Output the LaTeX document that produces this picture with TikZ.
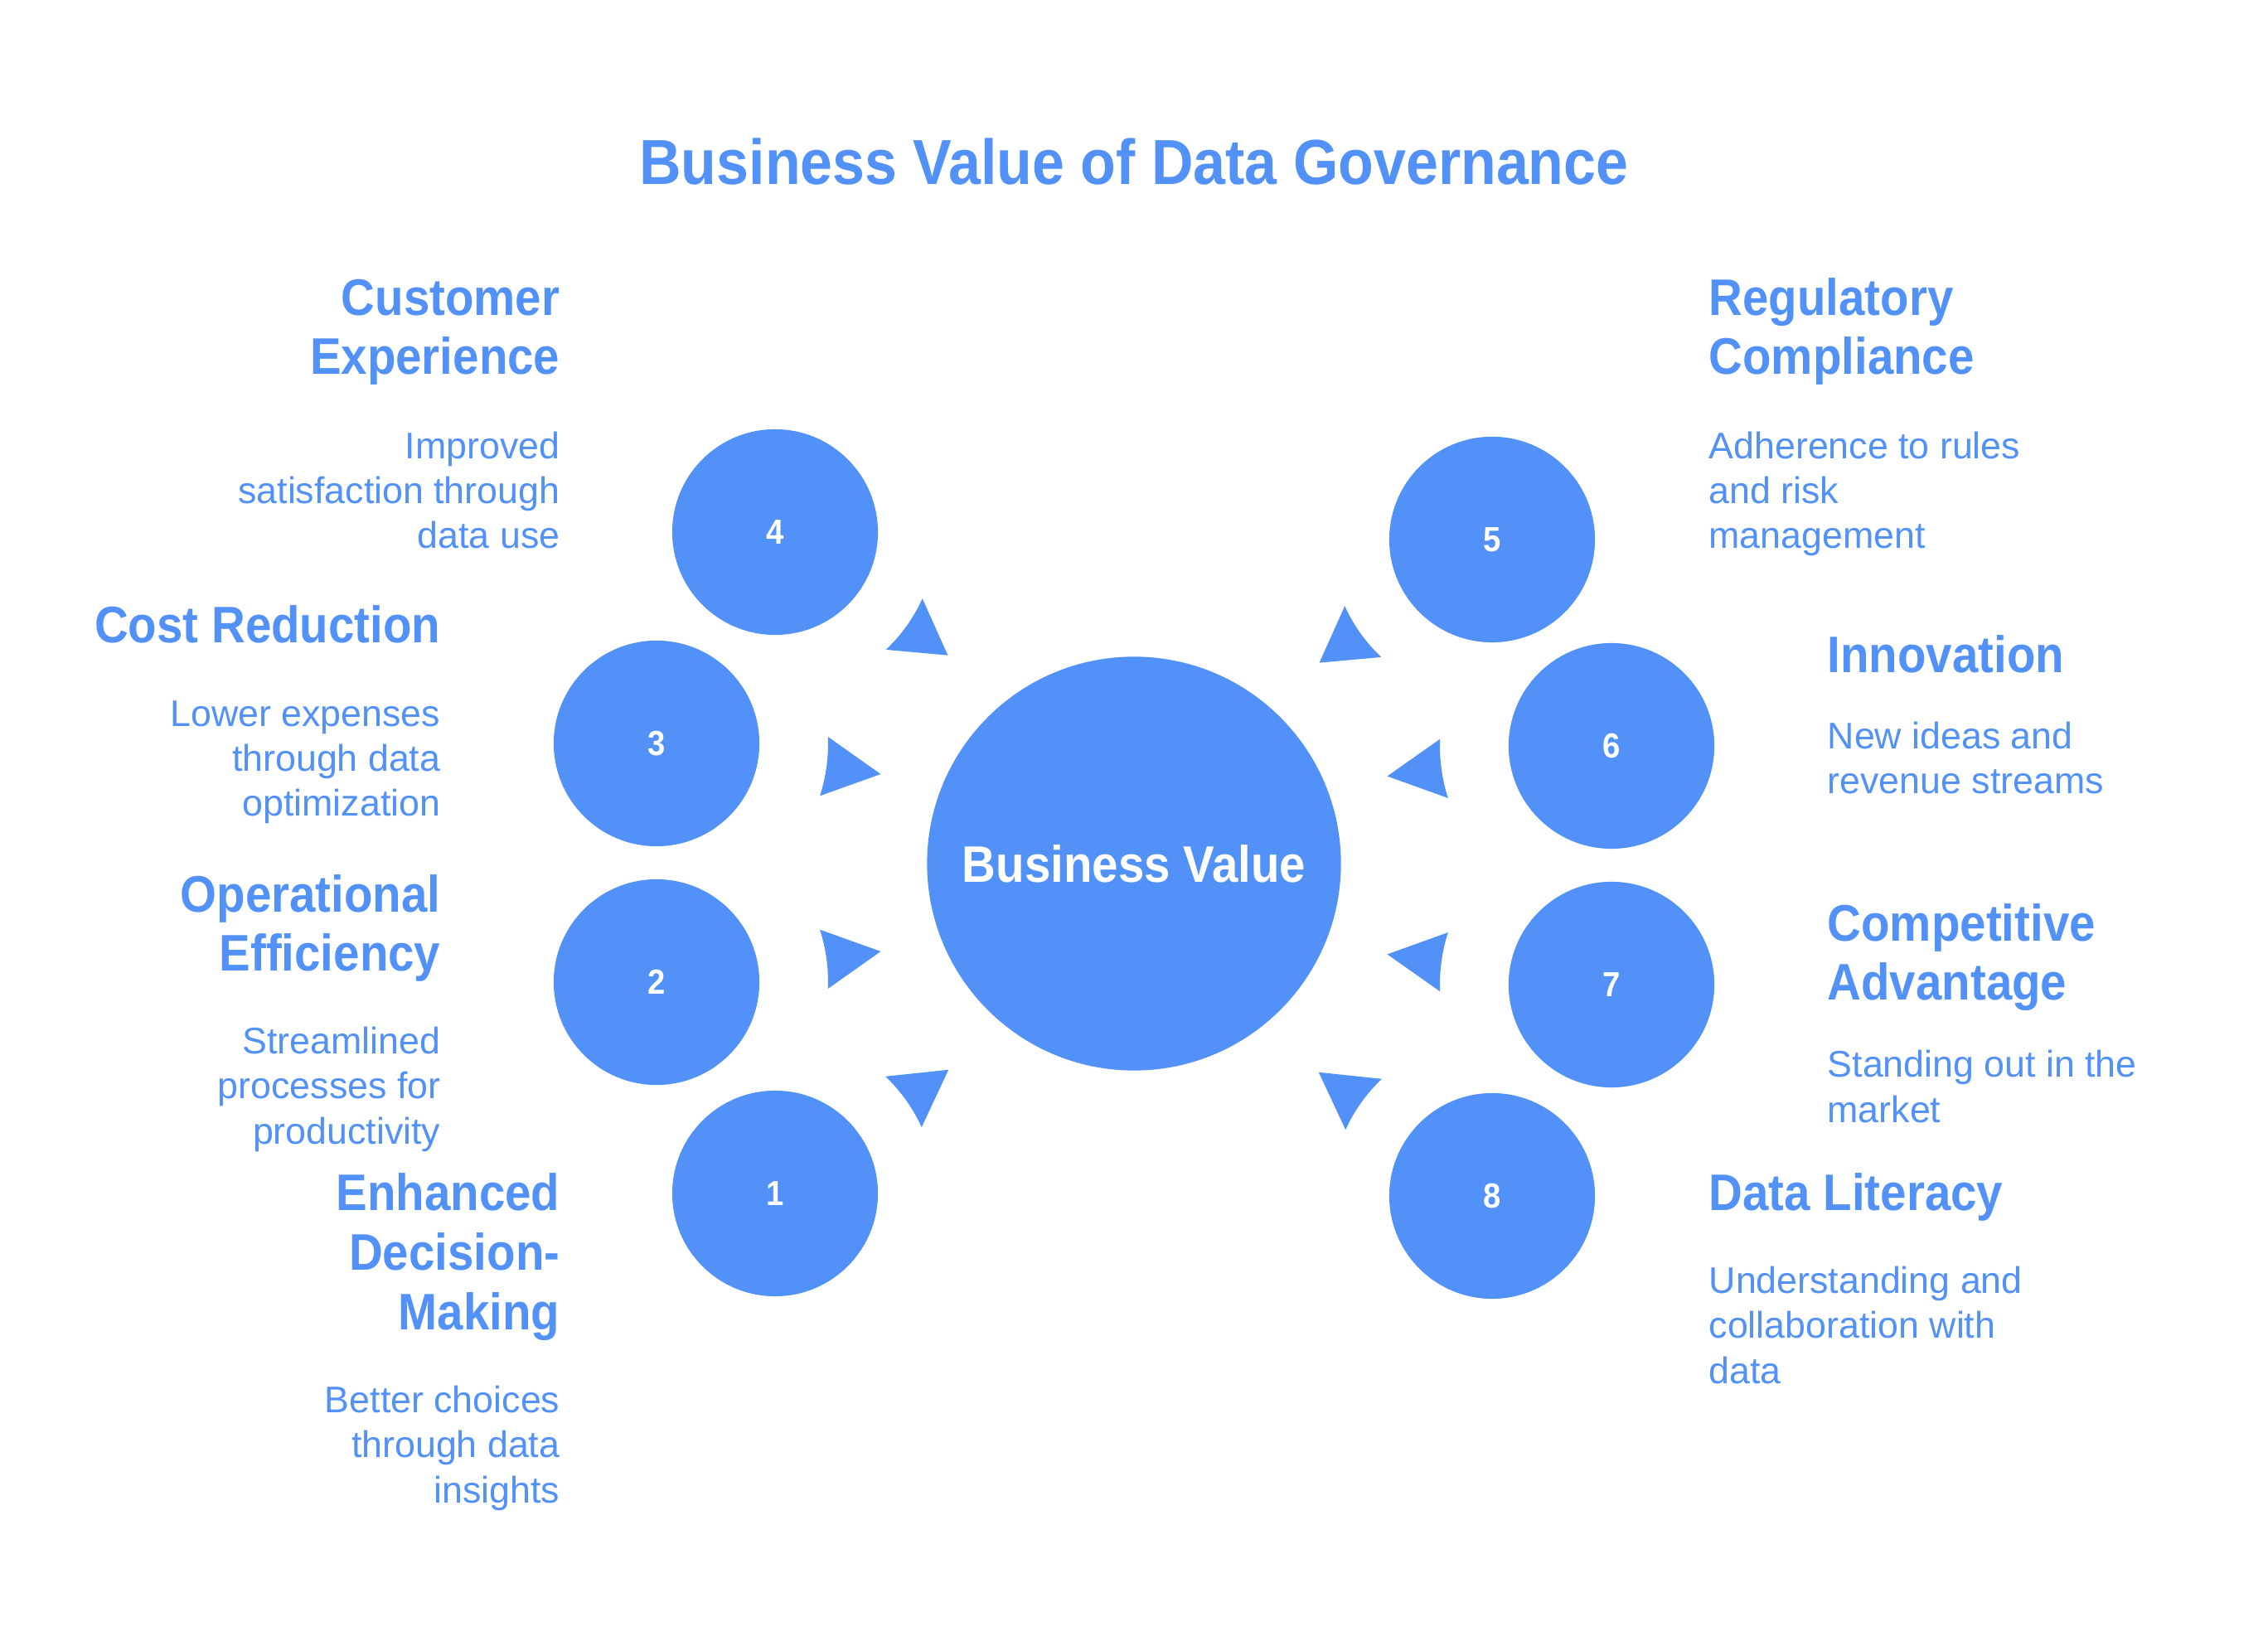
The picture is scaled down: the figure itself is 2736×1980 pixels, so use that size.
\documentclass[tikz,border=0pt]{standalone}
\usepackage{fontspec}
\setmainfont{Liberation Sans}[BoldFeatures={FakeStretch=0.91}]
\definecolor{valueblue}{RGB}{82,145,247}
\newcommand*\titlesize{\fontsize{21.85pt}{26pt}\selectfont}
\newcommand*\headsize{\fontsize{17.64pt}{20.34pt}\selectfont}
\newcommand*\bodysize{\fontsize{12.72pt}{15.45pt}\selectfont}
\tikzset{
    numdot/.style={
        circle,
        fill=valueblue,
        minimum size=2.48cm,
        inner sep=0pt,
        text=white,
        font=\bfseries\fontsize{11.95pt}{14pt}\selectfont
    },
    hubdot/.style={
        circle,
        fill=valueblue,
        minimum size=4.99cm,
        inner sep=0pt,
        text=white,
        font=\bfseries\headsize
    },
    heading/.style={text=valueblue, font=\bfseries\headsize, inner sep=0pt},
    caption/.style={text=valueblue, font=\bodysize, inner sep=0pt}
}

\begin{document}
\begin{tikzpicture}[x=0.01cm,y=-0.01cm]

    \useasboundingbox (0,0) rectangle (2736,1980);

    % Title.
    \node[font=\bfseries\titlesize, text=valueblue, anchor=base, inner sep=0pt] (title) at (1368,223) {Business Value of Data Governance};

    % The hub and the numbered circles round it.
    \node[hubdot] (hub) at (1368,1042) {Business Value};
    \foreach \num/\px/\py in {1/935/1440,2/792/1185,3/792/897,4/935/642,5/1800/651,6/1944/900,7/1944/1188,8/1800/1443}
        \node[numdot] (n\num) at (\px,\py) {\num};

    % Arrowheads pointing at the hub. Angle is taken from the circle centre,
    % the back of each head is a piece of a ring round its circle.
    \foreach \num/\ang/\tip/\back/\half in {1/-35.5/257/194/11.2,2/-7.8/273/207/10,3/7.8/273/207/10,4/35.5/256/195/11.2,5/144.5/256/195/11.2,6/172.3/273/207/10,7/187.7/273/207/10,8/215.5/257/194/11.2}
        \fill[valueblue, shift={(n\num.center)}] (\ang-\half:\back) -- (\ang:\tip) -- (\ang+\half:\back)
            arc[start angle=\ang+\half, end angle=\ang-\half, radius=\back] -- cycle;

    % Left side, right aligned. The y coordinate is the baseline of the last line.
    \node[heading, anchor=base east, align=right] (h4) at (676,452) {Customer\\Experience};
    \node[caption, anchor=base east, align=right] (c4) at (676,662) {Improved\\satisfaction through\\data use};

    \node[heading, anchor=base east, align=right] (h3) at (532,776) {Cost Reduction};
    \node[caption, anchor=base east, align=right] (c3) at (532,985) {Lower expenses\\through data\\optimization};

    \node[heading, anchor=base east, align=right] (h2) at (532,1172) {Operational\\Efficiency};
    \node[caption, anchor=base east, align=right] (c2) at (532,1380) {Streamlined\\processes for\\productivity};

    \node[heading, anchor=base east, align=right] (h1) at (676,1604) {Enhanced\\Decision-\\Making};
    \node[caption, anchor=base east, align=right] (c1) at (676,1813) {Better choices\\through data\\insights};

    % Right side, left aligned.
    \node[heading, anchor=base west, align=left] (h5) at (2061,452) {Regulatory\\Compliance};
    \node[caption, anchor=base west, align=left] (c5) at (2061,662) {Adherence to rules\\and risk\\management};

    \node[heading, anchor=base west, align=left] (h6) at (2204,812) {Innovation};
    \node[caption, anchor=base west, align=left] (c6) at (2204,958) {New ideas and\\revenue streams};

    \node[heading, anchor=base west, align=left] (h7) at (2204,1207) {Competitive\\Advantage};
    \node[caption, anchor=base west, align=left] (c7) at (2204,1354) {Standing out in the\\market};

    \node[heading, anchor=base west, align=left] (h8) at (2061,1460) {Data Literacy};
    \node[caption, anchor=base west, align=left] (c8) at (2061,1669) {Understanding and\\collaboration with\\data};

\end{tikzpicture}
\end{document}
